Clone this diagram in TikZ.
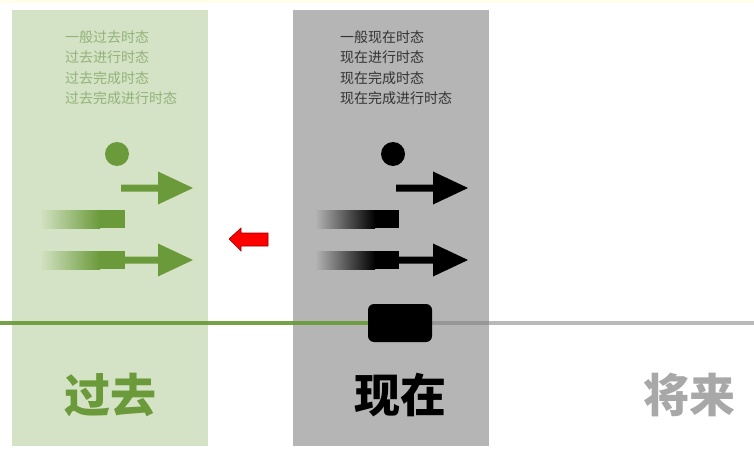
\documentclass[tikz,border=0pt]{standalone}
\usepackage{fontspec}
\newfontfamily\cjk{Noto Sans CJK SC}
\usetikzlibrary{positioning}
\definecolor{pastgreen}{HTML}{6A9A3A}
\definecolor{pastpanel}{HTML}{D4E3C5}
\definecolor{pasttext}{HTML}{93B27A}
\definecolor{nowpanel}{HTML}{B5B5B5}
\definecolor{nowtext}{HTML}{333333}
\definecolor{futuregray}{HTML}{A8A8A8}
\definecolor{backred}{HTML}{FF0000}
\tikzset{
  tenses/.style={font=\cjk\fontsize{14}{20.3}\selectfont, align=left, anchor=north west, inner sep=0pt},
  era/.style={font=\cjk\bfseries\fontsize{46}{46}\selectfont, inner sep=0pt}
}
% arrow outline, drawn from the left end of the shaft
\def\arrowshape{-- ++(37,0) -- ++(0,-13) -- ++(35,16.5) -- ++(-35,16.5) -- ++(0,-13) -- ++(-37,0) -- cycle}

\begin{document}
\begin{tikzpicture}[x=1pt,y=-1pt]
   \useasboundingbox (0,0) rectangle (754,449);
   \fill[white] (0,0) rectangle (754,449);
   \fill[yellow!8] (0,0) rectangle (754,3);
   % panels
   \fill[pastpanel] (12,10) rectangle (208,446);
   \fill[nowpanel] (293,10) rectangle (489,446);
   \node[tenses, text=pasttext] (pastlist) at (65,30.5) {一般过去时态\\过去进行时态\\过去完成时态\\过去完成进行时态};
   \node[tenses, text=nowtext] (nowlist) at (340,30.5) {一般现在时态\\现在进行时态\\现在完成时态\\现在完成进行时态};
   % past
   \begin{scope}[pastgreen]
      \fill (117,154) circle (12);
      \fill (121,184.5) \arrowshape;
      \shade[left color=pastpanel, right color=pastgreen] (40,210) rectangle (100,228);
      \fill (99.5,210) rectangle (125,228);
      \shade[left color=pastpanel, right color=pastgreen] (40,251) rectangle (100,269);
      \fill (99.5,251) rectangle (125,269);
      \fill (121,256.5) \arrowshape;
   \end{scope}
   % present
   \begin{scope}[black]
      \fill (393,154) circle (12);
      \fill (396,184.5) \arrowshape;
      \shade[left color=nowpanel, right color=black] (315,210) rectangle (375,228);
      \fill (374.5,210) rectangle (399,228);
      \shade[left color=nowpanel, right color=black] (315,251) rectangle (375,269);
      \fill (374.5,251) rectangle (399,269);
      \fill (396,256.5) \arrowshape;
   \end{scope}
   % back to the past
   \fill[backred, draw=red!60!black, line width=0.6pt] (229,239) -- (241,228) -- (241,233) -- (268,233) -- (268,246) -- (241,246) -- (241,251) -- cycle;
   % time line
   \coordinate (start) at (0,323);
   \coordinate (finish) at (754,323);
   \draw[pastgreen, line width=4pt, opacity=0.92] (start) -- (370,323);
   \draw[gray, line width=4pt, opacity=0.55] (430,323) -- (finish);
   \node[fill=black, rounded corners=6pt, minimum width=64pt, minimum height=38pt, inner sep=0pt] (now) at (400,323) {};
   \node[era, text=pastgreen] (past) at (110,395) {过去};
   \node[era, text=black] (present) at (400,395) {现在};
   \node[era, text=futuregray] (future) at (689,395) {将来};
\end{tikzpicture}
\end{document}
